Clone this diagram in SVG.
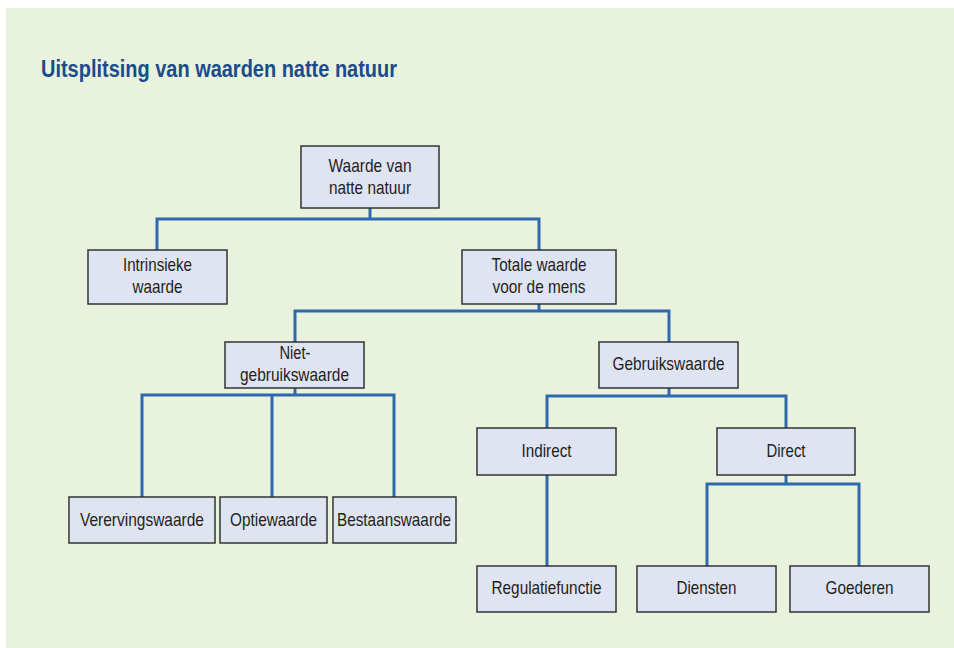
<svg xmlns="http://www.w3.org/2000/svg" width="954" height="648" viewBox="0 0 954 648">
<style>
.bg{fill:#e8f2dc}
.title{font-family:"Liberation Sans",Arial,sans-serif;font-weight:bold;font-size:23px;fill:#1a4b8c}
.box{fill:#dfe4f2;stroke:#333;stroke-width:1.5}
.t{font-family:"Liberation Sans",Arial,sans-serif;font-size:18.5px;fill:#231f20;text-anchor:middle}
.c{fill:none;stroke:#2e68ad;stroke-width:3}
</style>
<rect x="0" y="0" width="954" height="648" fill="#ffffff"/>
<rect class="bg" x="6" y="8" width="948" height="640"/>
<text class="title" x="41" y="77" textLength="356" lengthAdjust="spacingAndGlyphs">Uitsplitsing van waarden natte natuur</text>
<g id="connectors">
<path class="c" d="M370,208 V219 M157,250 V219 H539 V250"/>
<path class="c" d="M539,304 V311 M295,342 V311 H669 V342"/>
<path class="c" d="M295,388 V395 M142,497 V395 H394 V497 M272,395 V497"/>
<path class="c" d="M669,388 V396 M547,428 V396 H786 V428"/>
<path class="c" d="M547,475 V566"/>
<path class="c" d="M786,475 V484 M707,566 V484 H859 V566"/>
</g>
<g id="root">
<rect class="box" x="301" y="146" width="138" height="62"/>
<text class="t" x="370" y="172" textLength="83" lengthAdjust="spacingAndGlyphs">Waarde van</text>
<text class="t" x="370" y="194" textLength="82" lengthAdjust="spacingAndGlyphs">natte natuur</text>
</g>
<g id="intrinsiek">
<rect class="box" x="88" y="250" width="139" height="54"/>
<text class="t" x="157.5" y="271" textLength="69" lengthAdjust="spacingAndGlyphs">Intrinsieke</text>
<text class="t" x="157.5" y="293" textLength="50" lengthAdjust="spacingAndGlyphs">waarde</text>
</g>
<g id="totale">
<rect class="box" x="462" y="250" width="154" height="54"/>
<text class="t" x="539" y="271" textLength="95" lengthAdjust="spacingAndGlyphs">Totale waarde</text>
<text class="t" x="539" y="293" textLength="93" lengthAdjust="spacingAndGlyphs">voor de mens</text>
</g>
<g id="niet">
<rect class="box" x="225" y="342" width="139" height="46"/>
<text class="t" x="295" y="359" textLength="31" lengthAdjust="spacingAndGlyphs">Niet-</text>
<text class="t" x="294.5" y="381" textLength="109" lengthAdjust="spacingAndGlyphs">gebruikswaarde</text>
</g>
<g id="gebruik">
<rect class="box" x="599" y="342" width="139" height="46"/>
<text class="t" x="668.5" y="370" textLength="112" lengthAdjust="spacingAndGlyphs">Gebruikswaarde</text>
</g>
<g id="vererving">
<rect class="box" x="69" y="497" width="146" height="46"/>
<text class="t" x="142" y="526" textLength="124" lengthAdjust="spacingAndGlyphs">Verervingswaarde</text>
</g>
<g id="optie">
<rect class="box" x="220" y="497" width="107" height="46"/>
<text class="t" x="273.5" y="526" textLength="87" lengthAdjust="spacingAndGlyphs">Optiewaarde</text>
</g>
<g id="bestaan">
<rect class="box" x="333" y="497" width="123" height="46"/>
<text class="t" x="394" y="526" textLength="114" lengthAdjust="spacingAndGlyphs">Bestaanswaarde</text>
</g>
<g id="indirect">
<rect class="box" x="477" y="428" width="139" height="47"/>
<text class="t" x="546.5" y="457" textLength="50" lengthAdjust="spacingAndGlyphs">Indirect</text>
</g>
<g id="direct">
<rect class="box" x="717" y="428" width="138" height="47"/>
<text class="t" x="786" y="457" textLength="39" lengthAdjust="spacingAndGlyphs">Direct</text>
</g>
<g id="regulatie">
<rect class="box" x="477" y="566" width="139" height="46"/>
<text class="t" x="546.5" y="594" textLength="110" lengthAdjust="spacingAndGlyphs">Regulatiefunctie</text>
</g>
<g id="diensten">
<rect class="box" x="637" y="566" width="139" height="46"/>
<text class="t" x="706.5" y="594" textLength="60" lengthAdjust="spacingAndGlyphs">Diensten</text>
</g>
<g id="goederen">
<rect class="box" x="790" y="566" width="139" height="46"/>
<text class="t" x="859.5" y="594" textLength="68" lengthAdjust="spacingAndGlyphs">Goederen</text>
</g>
</svg>
